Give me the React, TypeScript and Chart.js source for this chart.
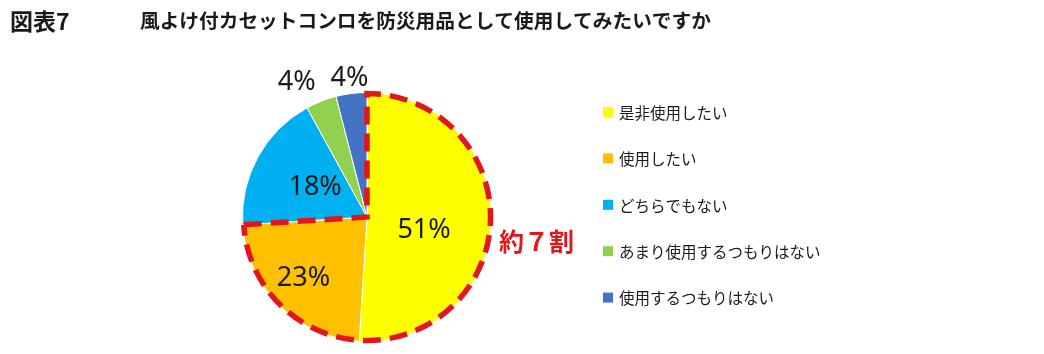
import React, { useEffect, useRef } from "react";
import { Chart, registerables } from "chart.js";

Chart.register(...registerables);

const categories = ["是非使用したい", "使用したい", "どちらでもない", "あまり使用するつもりはない", "使用するつもりはない"];
const values = [51, 23, 18, 4, 4];
const colors = ["#FFFF00", "#FFC000", "#00B0F0", "#92D050", "#4472C4"];
const pctLabels = ["51%", "23%", "18%", "4%", "4%"];
const highlightedSlices = [0, 1];
const highlightText = "約７割";
const figureLabel = "図表7";
const titleText = "風よけ付カセットコンロを防災用品として使用してみたいですか";

// label placement (fraction of radius, angle shift in degrees)
const labelRadius = [0.47, 0.71, 0.48, 1.22, 1.12];
const labelAngleShift = [11, 1, 1, -6, 0];

const CJK = '"Noto Sans CJK JP", "Noto Sans", sans-serif';

const overlay = {
  id: "overlay",
  afterDraw(chart: any) {
    const ctx = chart.ctx;
    const meta = chart.getDatasetMeta(0);
    const arcs = meta.data;
    const cx = arcs[0].x;
    const cy = arcs[0].y;
    const r = arcs[0].outerRadius;

    // titles
    ctx.save();
    ctx.fillStyle = "#1a1a1a";
    ctx.textBaseline = "middle";
    ctx.textAlign = "left";
    ctx.font = `bold 23px ${CJK}`;
    ctx.fillText(figureLabel, 10, 21);
    ctx.font = `bold 19.7px ${CJK}`;
    ctx.fillText(titleText, 140, 21);

    // legend
    ctx.font = `15.5px ${CJK}`;
    categories.forEach((c, i) => {
      const y = 112 + i * 46.4;
      ctx.fillStyle = colors[i];
      ctx.fillRect(603, y - 5, 10, 10);
      ctx.fillStyle = "#1a1a1a";
      ctx.fillText(c, 619, y + 1);
    });

    // slice labels
    ctx.font = `27px "Noto Sans", sans-serif`;
    ctx.textAlign = "center";
    ctx.fillStyle = "#1a1a1a";
    arcs.forEach((a: any, i: number) => {
      const mid = (a.startAngle + a.endAngle) / 2 + (labelAngleShift[i] * Math.PI) / 180;
      const rr = r * labelRadius[i];
      ctx.fillText(pctLabels[i], cx + Math.cos(mid) * rr, cy + Math.sin(mid) * rr);
    });

    // dashed highlight
    const first = arcs[highlightedSlices[0]];
    const last = arcs[highlightedSlices[highlightedSlices.length - 1]];
    const rd = r - 1;
    ctx.beginPath();
    ctx.moveTo(cx + Math.cos(last.endAngle) * rd, cy + Math.sin(last.endAngle) * rd);
    ctx.lineTo(cx, cy);
    ctx.lineTo(cx + Math.cos(first.startAngle) * rd, cy + Math.sin(first.startAngle) * rd);
    ctx.arc(cx, cy, rd, first.startAngle, last.endAngle);
    ctx.strokeStyle = "#E3161B";
    ctx.lineWidth = 5.5;
    ctx.setLineDash([18, 9]);
    ctx.lineJoin = "miter";
    ctx.stroke();
    ctx.setLineDash([]);

    ctx.fillStyle = "#E3161B";
    ctx.font = `bold 25px ${CJK}`;
    ctx.textAlign = "left";
    ctx.fillText(highlightText, 499, 241);
    ctx.restore();
  },
};

export default function App() {
  const ref = useRef<HTMLCanvasElement | null>(null);
  useEffect(() => {
    document.body.style.margin = "0";
    const chart = new Chart(ref.current!, {
      type: "pie",
      data: {
        labels: categories,
        datasets: [
          {
            data: values,
            backgroundColor: colors,
            borderColor: "#ffffff",
            borderWidth: 1,
          },
        ],
      },
      options: {
        responsive: false,
        animation: false,
        layout: { padding: { left: 242, right: 552, top: 92, bottom: 12 } },
        plugins: { legend: { display: false }, tooltip: { enabled: false }, title: { display: false } },
      },
      plugins: [overlay],
    });
    return () => chart.destroy();
  }, []);
  return (
    <div style={{ width: 1044, height: 354, background: "#fff" }}>
      <canvas ref={ref} width={1044} height={354} />
    </div>
  );
}
